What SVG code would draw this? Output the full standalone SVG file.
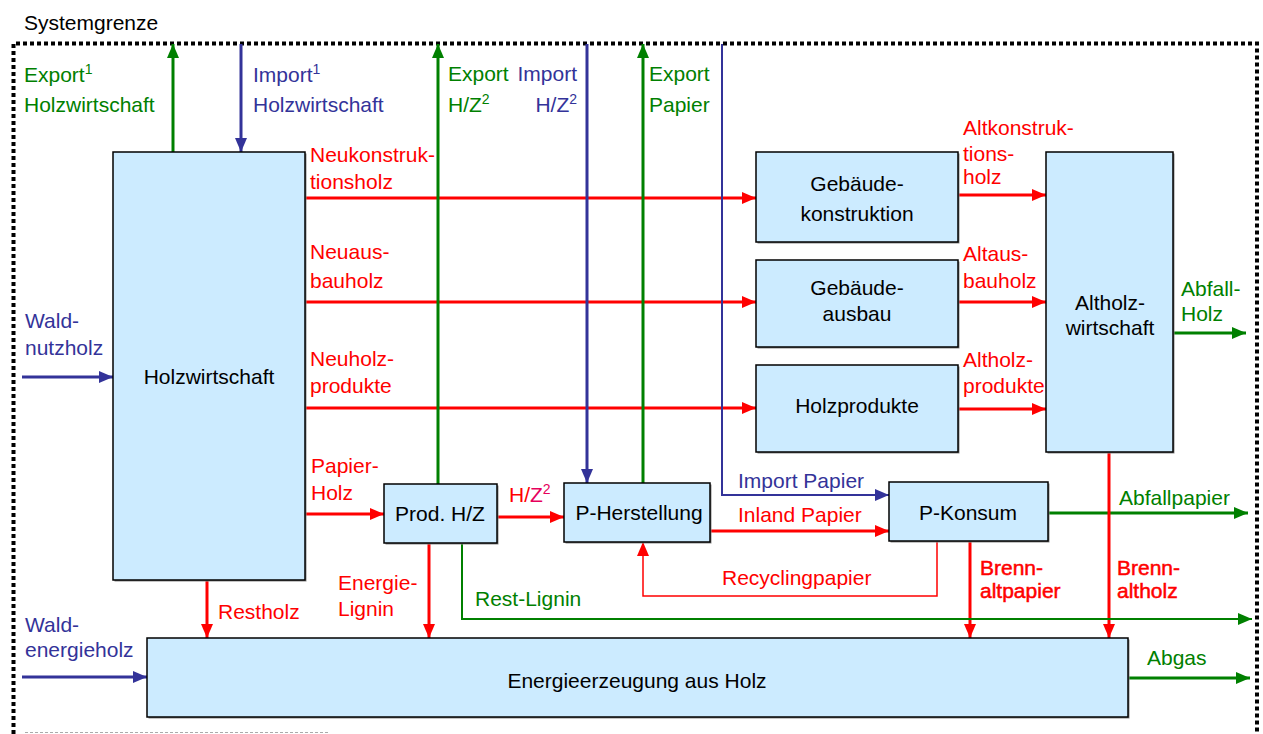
<svg xmlns="http://www.w3.org/2000/svg" width="1263" height="734" viewBox="0 0 1263 734">
<style>
text{font-family:"Liberation Sans",Arial,sans-serif;font-size:21px}
.nt{fill:#000;text-anchor:middle}
.r{fill:#FF0000}.g{fill:#008000}.b{fill:#333399}
.bold{stroke:#FF0000;stroke-width:0.5}
.node rect.box{fill:#CCEBFF;stroke:#000;stroke-width:1.5}
.node rect.sh{fill:#8a8a8a}
.c{fill:none;stroke-width:3}
.cr{stroke:#FF0000}.cg{stroke:#008000}.cb{stroke:#333399}
.thin{stroke-width:2}
.sup{font-size:14px}
</style>
<defs>
<marker id="ar" markerUnits="userSpaceOnUse" markerWidth="14" markerHeight="12" refX="14" refY="6" orient="auto"><path d="M0,0 L14,6 L0,12 z" fill="#FF0000"/></marker>
<marker id="ag" markerUnits="userSpaceOnUse" markerWidth="14" markerHeight="12" refX="14" refY="6" orient="auto"><path d="M0,0 L14,6 L0,12 z" fill="#008000"/></marker>
<marker id="ab" markerUnits="userSpaceOnUse" markerWidth="14" markerHeight="12" refX="14" refY="6" orient="auto"><path d="M0,0 L14,6 L0,12 z" fill="#333399"/></marker>
</defs>
<rect width="1263" height="734" fill="#fff"/>
<g id="boundary">
<path d="M13.5,734 V43.5 H1257 V734" fill="none" stroke="#000" stroke-width="4" stroke-dasharray="4 3"/>
<path d="M25,732.5 H330" fill="none" stroke="#aaa" stroke-width="1" stroke-dasharray="3 2"/>
<text x="24" y="30" fill="#000">Systemgrenze</text>
</g>
<g id="connectors">
<path class="c cg" d="M173,152 V44" marker-end="url(#ag)"/>
<path class="c cb" d="M241,44 V152" marker-end="url(#ab)"/>
<path class="c cr" d="M305,198 H756" marker-end="url(#ar)"/>
<path class="c cr" d="M305,302 H756" marker-end="url(#ar)"/>
<path class="c cr" d="M305,408 H756" marker-end="url(#ar)"/>
<path class="c cr" d="M305,514 H384" marker-end="url(#ar)"/>
<path class="c cr" d="M497,517 H564" marker-end="url(#ar)"/>
<path class="c cg" d="M438,484 V44" marker-end="url(#ag)"/>
<path class="c cb" d="M587,44 V483" marker-end="url(#ab)"/>
<path class="c cg" d="M643,483 V44" marker-end="url(#ag)"/>
<path class="c cb thin" d="M722,44 V495 H889" marker-end="url(#ab)"/>
<path class="c cr" d="M710,531 H889" marker-end="url(#ar)"/>
<path class="c cr" style="stroke-width:1.5" d="M937,541 V596 H643 V542" marker-end="url(#ar)"/>
<path class="c cg" d="M1048,513 H1248" marker-end="url(#ag)"/>
<path class="c cr" d="M970,541 V638" marker-end="url(#ar)"/>
<path class="c cr" d="M1109,452 V638" marker-end="url(#ar)"/>
<path class="c cg" d="M1173,333 H1246" marker-end="url(#ag)"/>
<path class="c cr" d="M958,195 H1046" marker-end="url(#ar)"/>
<path class="c cr" d="M958,302 H1046" marker-end="url(#ar)"/>
<path class="c cr" d="M958,409 H1046" marker-end="url(#ar)"/>
<path class="c cb" d="M22,377 H113" marker-end="url(#ab)"/>
<path class="c cb" d="M22,677 H147" marker-end="url(#ab)"/>
<path class="c cr" d="M207,580 V638" marker-end="url(#ar)"/>
<path class="c cr" d="M429,543 V638" marker-end="url(#ar)"/>
<path class="c cg thin" d="M462,543 V619 H1252" marker-end="url(#ag)"/>
<path class="c cg" d="M1128,678 H1250" marker-end="url(#ag)"/>
</g>
<g id="labels">
<text class="g" x="24" y="82">Export<tspan class="sup" dy="-8">1</tspan></text>
<text class="g" x="24" y="112">Holzwirtschaft</text>
<text class="b" x="253" y="82">Import<tspan class="sup" dy="-8">1</tspan></text>
<text class="b" x="253" y="112">Holzwirtschaft</text>
<text class="g" x="448" y="81">Export</text>
<text class="g" x="448" y="112">H/Z<tspan class="sup" dy="-8">2</tspan></text>
<text class="b" x="577" y="81" text-anchor="end">Import</text>
<text class="b" x="577" y="112" text-anchor="end">H/Z<tspan class="sup" dy="-8">2</tspan></text>
<text class="g" x="649" y="81">Export</text>
<text class="g" x="649" y="112">Papier</text>
<text class="r" x="310" y="162">Neukonstruk-</text>
<text class="r" x="310" y="189">tionsholz</text>
<text class="r" x="310" y="259">Neuaus-</text>
<text class="r" x="310" y="288">bauholz</text>
<text class="r" x="310" y="366">Neuholz-</text>
<text class="r" x="310" y="393">produkte</text>
<text class="r" x="311" y="473">Papier-</text>
<text class="r" x="311" y="500">Holz</text>
<text class="r" x="509" y="502">H/<tspan fill="#E6005C">Z</tspan><tspan class="sup" dy="-8" fill="#E6005C">2</tspan></text>
<text class="r" x="338" y="590">Energie-</text>
<text class="r" x="338" y="616">Lignin</text>
<text class="r" x="218" y="619">Restholz</text>
<text class="g" x="475" y="606">Rest-Lignin</text>
<text class="b" x="738" y="488">Import Papier</text>
<text class="r" x="738" y="522">Inland Papier</text>
<text class="r" x="722" y="585">Recyclingpapier</text>
<text class="r bold" x="980" y="575">Brenn-</text>
<text class="r bold" x="980" y="598">altpapier</text>
<text class="r bold" x="1117" y="575">Brenn-</text>
<text class="r bold" x="1117" y="598">altholz</text>
<text class="g" x="1119" y="505">Abfallpapier</text>
<text class="g" x="1147" y="665">Abgas</text>
<text class="r" x="963" y="135">Altkonstruk-</text>
<text class="r" x="963" y="161">tions-</text>
<text class="r" x="963" y="184">holz</text>
<text class="r" x="963" y="261">Altaus-</text>
<text class="r" x="963" y="288">bauholz</text>
<text class="r" x="963" y="367">Altholz-</text>
<text class="r" x="963" y="393">produkte</text>
<text class="g" x="1181" y="296">Abfall-</text>
<text class="g" x="1181" y="321">Holz</text>
<text class="b" x="25" y="328">Wald-</text>
<text class="b" x="25" y="355">nutzholz</text>
<text class="b" x="25" y="632">Wald-</text>
<text class="b" x="25" y="657">energieholz</text>
</g>
<g id="holzwirtschaft" class="node">
<rect class="sh" x="114.5" y="153.5" width="192" height="428"/>
<rect class="box" x="113" y="152" width="192" height="428"/>
<text class="nt" x="209" y="384">Holzwirtschaft</text>
</g>
<g id="gebaeudekonstruktion" class="node">
<rect class="sh" x="757.5" y="153.5" width="202" height="90"/>
<rect class="box" x="756" y="152" width="202" height="90"/>
<text class="nt" x="857" y="191">Gebäude-</text>
<text class="nt" x="857" y="221">konstruktion</text>
</g>
<g id="gebaeudeausbau" class="node">
<rect class="sh" x="757.5" y="261.5" width="202" height="87"/>
<rect class="box" x="756" y="260" width="202" height="87"/>
<text class="nt" x="857" y="295">Gebäude-</text>
<text class="nt" x="857" y="321">ausbau</text>
</g>
<g id="holzprodukte" class="node">
<rect class="sh" x="757.5" y="366.5" width="202" height="87"/>
<rect class="box" x="756" y="365" width="202" height="87"/>
<text class="nt" x="857" y="413">Holzprodukte</text>
</g>
<g id="altholzwirtschaft" class="node">
<rect class="sh" x="1047.5" y="153.5" width="127" height="300"/>
<rect class="box" x="1046" y="152" width="127" height="300"/>
<text class="nt" x="1110" y="310">Altholz-</text>
<text class="nt" x="1110" y="335">wirtschaft</text>
</g>
<g id="prodhz" class="node">
<rect class="sh" x="385.5" y="485.5" width="113" height="59"/>
<rect class="box" x="384" y="484" width="113" height="59"/>
<text class="nt" x="440" y="521">Prod. H/Z</text>
</g>
<g id="pherstellung" class="node">
<rect class="sh" x="565.5" y="484.5" width="146" height="59"/>
<rect class="box" x="564" y="483" width="146" height="59"/>
<text class="nt" x="639" y="520">P-Herstellung</text>
</g>
<g id="pkonsum" class="node">
<rect class="sh" x="890.5" y="483.5" width="159" height="59"/>
<rect class="box" x="889" y="482" width="159" height="59"/>
<text class="nt" x="968" y="520">P-Konsum</text>
</g>
<g id="energieerzeugung" class="node">
<rect class="sh" x="148.5" y="639.5" width="981" height="79"/>
<rect class="box" x="147" y="638" width="981" height="79"/>
<text class="nt" x="637" y="688">Energieerzeugung aus Holz</text>
</g>
</svg>
